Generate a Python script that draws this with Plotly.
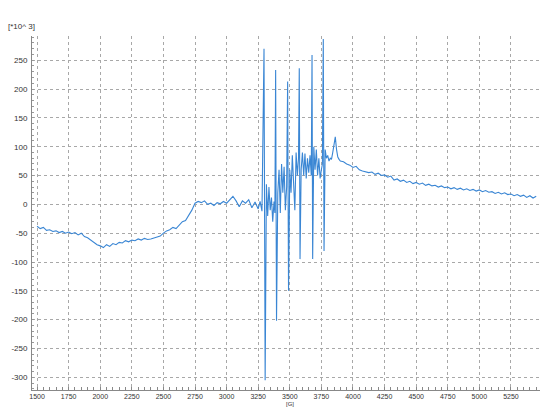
import plotly.graph_objects as go

# Field values [G]
field = [
    1500, 1525, 1550, 1575, 1600, 1625, 1650, 1675, 1700, 1725, 1750, 1775, 1800, 1825, 1850, 1875,
    1900, 1925, 1950, 1975, 2000, 2025, 2050, 2075, 2100, 2125, 2150, 2175, 2200, 2225, 2250, 2275,
    2300, 2325, 2350, 2375, 2400, 2425, 2450, 2475, 2500, 2525, 2550, 2575, 2600, 2625, 2650, 2675,
    2700, 2725, 2750, 2775, 2800, 2825, 2850, 2875, 2900, 2925, 2950, 2975, 3000, 3025, 3050, 3075,
    3100, 3125, 3150, 3175, 3200, 3225, 3250, 3265, 3280,
    3296, 3305, 3315, 3325, 3335, 3345, 3355, 3365, 3375, 3382,
    3388, 3395, 3405, 3415, 3425, 3435, 3445, 3455, 3465, 3475,
    3483, 3490, 3500, 3510, 3520, 3530, 3540, 3550, 3560, 3569,
    3575, 3581, 3590, 3600, 3610, 3620, 3630, 3640, 3650, 3660, 3670,
    3676, 3681, 3690, 3700, 3710, 3720, 3730, 3740, 3750, 3758,
    3765, 3771, 3780, 3790, 3800, 3810, 3820, 3830, 3840, 3850, 3860, 3870, 3880, 3890, 3900,
    3925, 3950, 3975, 4000, 4025, 4050, 4075, 4100, 4125, 4150, 4175, 4200, 4225, 4250, 4275, 4300,
    4325, 4350, 4375, 4400, 4425, 4450, 4475, 4500, 4525, 4550, 4575, 4600, 4625, 4650, 4675, 4700,
    4725, 4750, 4775, 4800, 4825, 4850, 4875, 4900, 4925, 4950, 4975, 5000, 5025, 5050, 5075, 5100,
    5125, 5150, 5175, 5200, 5225, 5250, 5275, 5300, 5325, 5350, 5375, 5400, 5425, 5450,
]

# Signal values [*10^3]
signal = [
    -38, -42, -40, -45, -44, -47, -46, -49, -47, -50, -48, -51, -49, -53, -50, -56,
    -58, -62, -65, -70, -72, -75, -70, -73, -68, -70, -66, -67, -63, -65, -62, -63,
    -60, -62, -59, -61, -60, -58, -57, -55, -50, -46, -44, -40, -42, -35, -30, -28,
    -20, -10, 2, 5, 3, 6, 0, 2, -2, 3, 1, 5, 2, 8, 14, 6,
    -4, 6, 2, 8, -6, 4, -8, 5, -12,
    270, -305, 35, -20, 30, -10, 12, -30, 5, -15,
    233, -202, 20, 60, -15, 70, 20, 65, -10, 30,
    213, -150, 60, 20, 85, 40, -10, 90, 50, 80,
    236, -95, 60, 90, 50, 88, 45, 80, 55, 85, 50,
    259, -95, 100, 60, 95, 50, 80, 45, 60, 70,
    287, -81, 95, 80, 85, 75, 80, 78, 90, 105, 117, 95, 82, 78, 75,
    74, 70, 68, 64, 66, 60, 58, 57, 55, 56, 52, 54, 50, 51, 47, 49,
    42, 44, 40, 42, 38, 40, 36, 38, 35, 37, 33, 35, 32, 33, 30, 32,
    29, 30, 27, 29, 26, 28, 25, 27, 24, 26, 23, 25, 22, 24, 21, 22,
    19, 21, 18, 20, 17, 18, 15, 17, 14, 16, 12, 15, 11, 14,
]

x_ticks = [1500, 1750, 2000, 2250, 2500, 2750, 3000, 3250, 3500, 3750, 4000, 4250, 4500, 4750, 5000, 5250]
y_ticks = [-300, -250, -200, -150, -100, -50, 0, 50, 100, 150, 200, 250]

fig = go.Figure()
fig.add_trace(go.Scatter(x=field, y=signal, mode="lines",
                         line=dict(color="#3a86d4", width=1.1), showlegend=False))

tickfont = dict(family="Liberation Sans, Arial, sans-serif", size=8, color="#333333")
xtickfont = dict(family="Liberation Sans, Arial, sans-serif", size=7, color="#333333")
fig.update_layout(
    width=541, height=409,
    margin=dict(l=32, r=1, t=36, b=19),
    paper_bgcolor="white", plot_bgcolor="white",
    xaxis=dict(range=[1460, 5480], tickvals=x_ticks, ticktext=[str(v) for v in x_ticks],
               showgrid=True, gridcolor="#a8a8a8", griddash="dot", gridwidth=1,
               showline=True, linecolor="#888888", linewidth=1,
               ticks="", tickfont=xtickfont, zeroline=False, ticklabelstandoff=0,
               minor=dict(ticks="inside", dtick=50, tick0=1500, ticklen=3, tickcolor="#888888", showgrid=False)),
    yaxis=dict(range=[-322, 292], tickvals=y_ticks, ticktext=[str(v) for v in y_ticks],
               showgrid=True, gridcolor="#a8a8a8", griddash="dot", gridwidth=1,
               showline=True, linecolor="#888888", linewidth=1,
               ticks="", tickfont=tickfont, zeroline=False, ticklabelstandoff=2,
               minor=dict(ticks="inside", dtick=10, ticklen=2, tickcolor="#999999", showgrid=False)),
)
fig.add_annotation(text="[*10^ 3]", xref="paper", yref="paper", x=-0.052, y=1.0, yshift=3,
                   xanchor="left", yanchor="bottom", showarrow=False, font=tickfont)
fig.add_annotation(text="[G]", xref="x", yref="paper", x=3500, y=0, yshift=-19,
                   xanchor="center", yanchor="bottom", showarrow=False,
                   font=dict(family="Liberation Sans, Arial, sans-serif", size=6, color="#333333"))

fig.write_html("out.html")
